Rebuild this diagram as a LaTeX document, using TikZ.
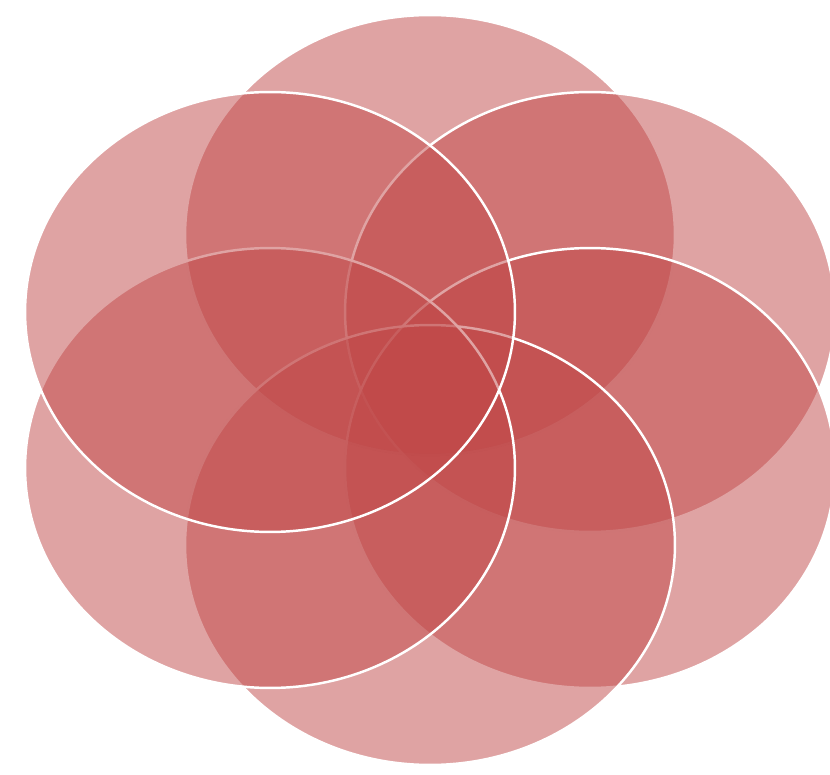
\documentclass[tikz,border=0pt]{standalone}
\definecolor{petalred}{RGB}{192,72,72}

\begin{document}
\begin{tikzpicture}[x=0.02cm, y=0.02cm,
        petal/.style={fill=petalred, fill opacity=0.5,
                      draw=white, draw opacity=1, line width=1.4pt},
    ]
    \useasboundingbox (0,0) rectangle (830,774);
    \clip (0,0) rectangle (830,774);

    % centres, clockwise from the top
    \coordinate (top) at (430,539);
    \coordinate (upright) at (590,462);
    \coordinate (lowright) at (590,306);
    \coordinate (bottom) at (430,229);
    \coordinate (lowleft) at (270,306);
    \coordinate (upleft) at (270,462);

    % petals
    \filldraw[petal] (top) ellipse [x radius=4.9cm, y radius=4.4cm];
    \filldraw[petal] (upright) ellipse [x radius=4.9cm, y radius=4.4cm];
    \filldraw[petal] (lowright) ellipse [x radius=4.9cm, y radius=4.4cm];
    \filldraw[petal] (bottom) ellipse [x radius=4.9cm, y radius=4.4cm];
    \filldraw[petal] (lowleft) ellipse [x radius=4.9cm, y radius=4.4cm];
    \filldraw[petal] (upleft) ellipse [x radius=4.9cm, y radius=4.4cm];

\end{tikzpicture}
\end{document}
